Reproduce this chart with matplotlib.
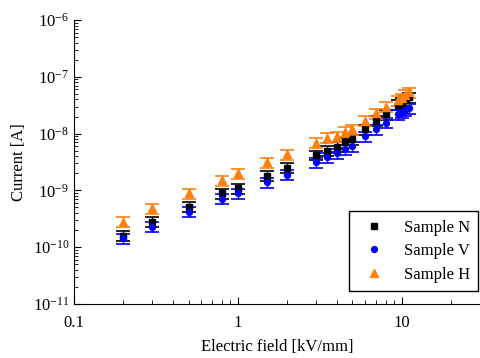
import numpy as np
import matplotlib
matplotlib.use('Agg')
import matplotlib.pyplot as plt
from matplotlib.ticker import LogLocator, FixedLocator, FixedFormatter, NullFormatter

plt.rcParams['font.family'] = ['Liberation Serif', 'DejaVu Serif']
plt.rcParams['mathtext.fontset'] = 'stix'

# electric field values [kV/mm]
field = [0.2, 0.3, 0.5, 0.8, 1.0, 1.5, 2.0, 3.0, 3.5, 4.0, 4.5, 5.0, 6.0, 7.0, 8.0, 9.5, 10.0, 10.5, 11.0]

# currents [A]
current_n = [1.6e-10, 2.8e-10, 5.1e-10, 8.9e-10, 1.1e-9, 1.8e-9, 2.5e-9, 4.2e-9, 5.0e-9, 5.9e-9,
             7.0e-9, 8.0e-9, 1.2e-8, 1.67e-8, 2.2e-8, 3.2e-8, 3.5e-8, 3.9e-8, 4.4e-8]
current_v = [1.45e-10, 2.3e-10, 4.2e-10, 7.1e-10, 8.9e-10, 1.4e-9, 1.9e-9, 3.1e-9, 3.8e-9, 4.5e-9,
             5.3e-9, 6.0e-9, 8.9e-9, 1.2e-8, 1.56e-8, 2.2e-8, 2.4e-8, 2.6e-8, 2.8e-8]
current_h = [2.8e-10, 4.8e-10, 8.9e-10, 1.5e-9, 2.0e-9, 3.1e-9, 4.3e-9, 6.9e-9, 8.5e-9, 8.9e-9,
             1.08e-8, 1.2e-8, 1.7e-8, 2.3e-8, 2.96e-8, 3.9e-8, 4.2e-8, 4.8e-8, 5.4e-8]

rel_err = 0.2

fig = plt.figure(figsize=(4.8, 3.58), dpi=100)
ax = fig.add_axes([0.154, 0.151, 0.846, 0.793])

series = [
    ('Sample N', current_n, 's', 'black', 4.2),
    ('Sample V', current_v, 'o', 'blue', 4.2),
    ('Sample H', current_h, '^', '#ff7f0e', 5.2),
]
for label, y, marker, color, ms in series:
    y = np.array(y)
    ax.errorbar(field, y, yerr=rel_err * y, fmt=marker, color=color, ms=ms,
                ecolor=color, elinewidth=1, capsize=5, capthick=1.2, label=label)

ax.set_xscale('log')
ax.set_yscale('log')
ax.set_xlim(0.1, 30)
ax.set_ylim(1e-11, 1e-6)

ax.xaxis.set_major_locator(FixedLocator([0.1, 1, 10]))
ax.xaxis.set_major_formatter(FixedFormatter(['0.1', '1', '10']))
ax.xaxis.set_minor_locator(LogLocator(base=10, subs=np.arange(2, 10)))
ax.xaxis.set_minor_formatter(NullFormatter())
ax.yaxis.set_minor_locator(LogLocator(base=10, subs=np.arange(2, 10)))
ax.yaxis.set_minor_formatter(NullFormatter())

ax.tick_params(which='both', direction='in', labelsize=12)
ax.tick_params(which='major', length=5)
ax.tick_params(which='minor', length=3)
ax.tick_params(axis='x', which='major', pad=8)
ax.spines['top'].set_visible(False)
ax.spines['right'].set_visible(False)

ax.set_xlabel('Electric field [kV/mm]', fontsize=12, labelpad=6)
ax.set_ylabel('Current [A]', fontsize=12)

handles, labels = ax.get_legend_handles_labels()
handles = [h[0] for h in handles]
leg = ax.legend(handles, labels, loc='lower right', bbox_to_anchor=(0.996, 0.046), fontsize=12,
                fancybox=False, edgecolor='black', framealpha=1, handletextpad=0.8,
                labelspacing=0.45, borderpad=0.5, handlelength=2.0, borderaxespad=0)
leg.get_frame().set_linewidth(1)

fig.savefig('out.png', dpi=100)
